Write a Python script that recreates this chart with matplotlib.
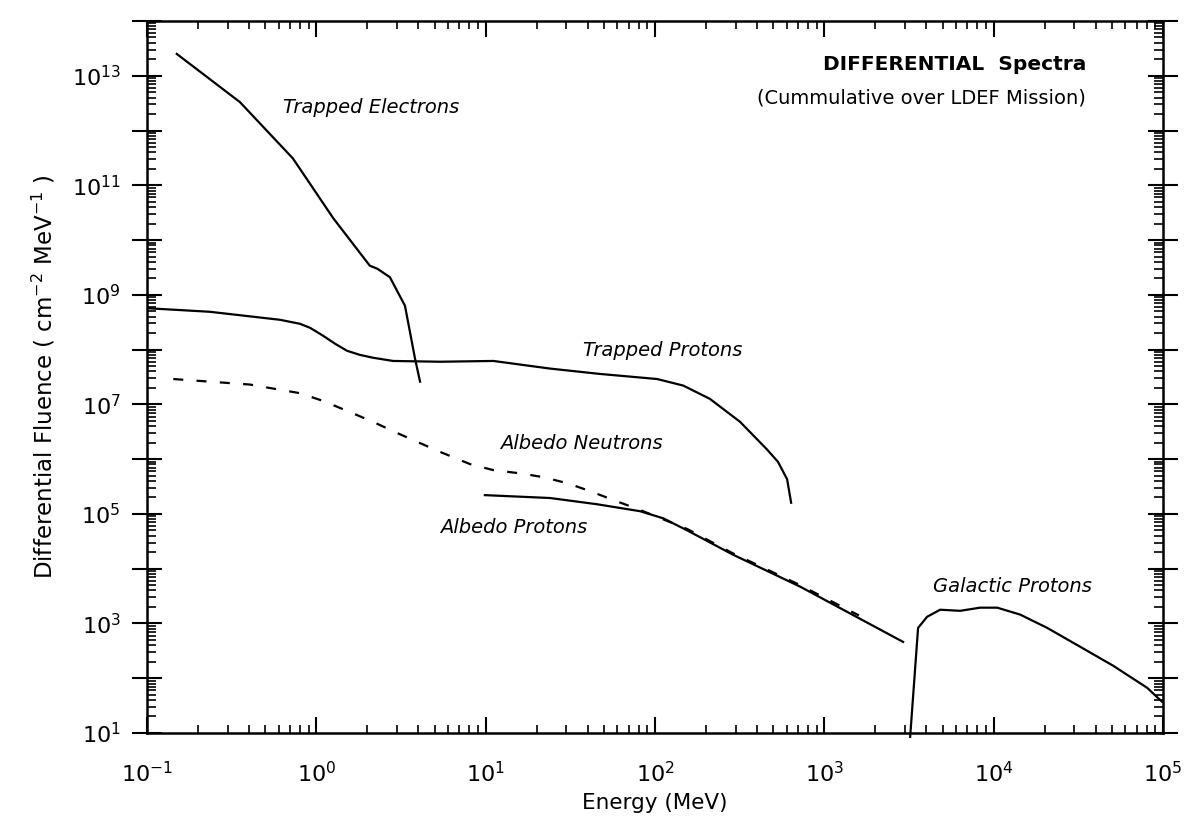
"""
Differential spectra over the LDEF mission, log-log chart.
"""

import numpy as np
import matplotlib
matplotlib.use("Agg")
import matplotlib.pyplot as plt
from matplotlib.ticker import FixedLocator, FuncFormatter, NullFormatter

# Data (Energy in MeV, fluence in cm^-2 MeV^-1)
electron_E = [0.15, 0.354, 0.727, 1.26, 2.07, 2.29, 2.72, 3.34, 3.83, 4.10]
electron_F = [2.5e13, 3.3e12, 3.1e11, 2.5e10, 3.4e9, 3.0e9, 2.1e9, 6.3e8, 6.8e7, 2.6e7]

proton_E = [0.1, 0.235, 0.61, 0.80, 0.918, 1.10, 1.29, 1.52, 1.81, 2.16, 2.84, 5.38, 11.1,
            24, 47, 103, 147, 211, 318, 459, 533, 603, 637]
proton_F = [5.7e8, 4.9e8, 3.5e8, 2.96e8, 2.5e8, 1.78e8, 1.28e8, 9.5e7, 8.0e7, 7.1e7, 6.2e7, 6.0e7, 6.2e7,
            4.5e7, 3.6e7, 2.9e7, 2.2e7, 1.26e7, 4.8e6, 1.5e6, 8.9e5, 4.3e5, 1.6e5]

neutron_E = [0.143, 0.405, 0.80, 1.10, 1.52, 2.16, 3.0, 4.1, 5.6, 8.1, 11.1,
             16.0, 21.8, 30.7, 41.4, 56.6, 81.6, 155, 289, 720, 1600]
neutron_F = [2.9e7, 2.3e7, 1.6e7, 1.15e7, 7.6e6, 4.8e6, 3.0e6, 1.96e6, 1.29e6, 8.1e5, 6.3e5,
             5.5e5, 4.7e5, 3.6e5, 2.6e5, 1.8e5, 1.18e5, 5.3e4, 1.9e4, 5.0e3, 1.4e3]

albedo_E = [9.9, 24, 45.5, 81.6, 112, 155, 289, 720, 2920]
albedo_F = [2.2e5, 1.95e5, 1.5e5, 1.12e5, 8.3e4, 5.0e4, 1.8e4, 4.7e3, 4.6e2]

galactic_E = [3214, 3580, 4045, 4830, 6340, 8320, 10500, 14350, 20700, 32400, 50800, 80700, 98900]
galactic_F = [8.5, 8.3e2, 1.32e3, 1.78e3, 1.70e3, 1.94e3, 1.94e3, 1.45e3, 8.3e2, 3.76e2, 1.69e2, 66.7, 37]

x_exps = list(range(-1, 6))
y_exps = list(range(1, 15))

LW = 1.6


def sci_label(val, pos, odd_only=False):
    exp = int(round(np.log10(val)))
    if odd_only and exp % 2 == 0:
        return ""
    return r"$\mathregular{10^{%d}}$" % exp


def minor_ticks(exps):
    return [m * 10.0 ** e for e in exps[:-1] for m in range(2, 10)]


fig = plt.figure(figsize=(11.89, 8.22), dpi=100)
ax = fig.add_axes([0.1236, 0.1083, 0.8545, 0.8662])

ax.plot(electron_E, electron_F, color="black", lw=LW)
ax.plot(proton_E, proton_F, color="black", lw=LW)
ax.plot(neutron_E, neutron_F, color="black", lw=LW, linestyle=(0, (4.5, 6)))
ax.plot(albedo_E, albedo_F, color="black", lw=LW)
ax.plot(galactic_E, galactic_F, color="black", lw=LW, clip_on=False)

ax.set_xscale("log")
ax.set_yscale("log")
ax.set_xlim(1e-1, 1e5)
ax.set_ylim(1e1, 1e14)

# ticks: decades major, 2..9 minor
ax.xaxis.set_major_locator(FixedLocator([10.0 ** e for e in x_exps]))
ax.xaxis.set_minor_locator(FixedLocator(minor_ticks(x_exps)))
ax.yaxis.set_major_locator(FixedLocator([10.0 ** e for e in y_exps]))
ax.yaxis.set_minor_locator(FixedLocator(minor_ticks(y_exps)))
ax.xaxis.set_major_formatter(FuncFormatter(sci_label))
ax.yaxis.set_major_formatter(FuncFormatter(lambda v, p: sci_label(v, p, odd_only=True)))
ax.xaxis.set_minor_formatter(NullFormatter())
ax.yaxis.set_minor_formatter(NullFormatter())

ax.tick_params(axis="x", which="both", direction="in", top=True, bottom=True, labelsize=16)
ax.tick_params(axis="x", which="major", length=11.5, width=1.5, pad=20)
ax.tick_params(axis="x", which="minor", length=5.5, width=1.2)
ax.tick_params(axis="y", which="major", direction="inout", length=22, width=1.5,
               left=True, right=True, labelsize=16, pad=8)
ax.tick_params(axis="y", which="minor", direction="in", length=6.5, width=1.2,
               left=True, right=True)

for sp in ax.spines.values():
    sp.set_linewidth(1.8)

ax.set_xlabel("Energy (MeV)", fontsize=15.5, labelpad=5)
ax.set_ylabel(r"Differential Fluence ( cm$^{-2}$ MeV$^{-1}$ )", fontsize=16.5, labelpad=10)

# curve annotations
lab = dict(fontsize=14, style="italic", ha="left", va="center")
ax.text(0.636, 2.6e12, "Trapped Electrons", **lab)
ax.text(37.6, 9.5e7, "Trapped Protons", **lab)
ax.text(12.2, 1.9e6, "Albedo Neutrons", **lab)
ax.text(5.4, 5.6e4, "Albedo Protons", **lab)
ax.text(4395, 4720, "Galactic Protons", **lab)

ax.text(984, 1.6e13, "DIFFERENTIAL  Spectra", fontsize=14.5, fontweight="bold",
        ha="left", va="center")
ax.text(401, 3.9e12, "(Cummulative over LDEF Mission)", fontsize=14,
        ha="left", va="center")

fig.savefig("out.png", dpi=100)
